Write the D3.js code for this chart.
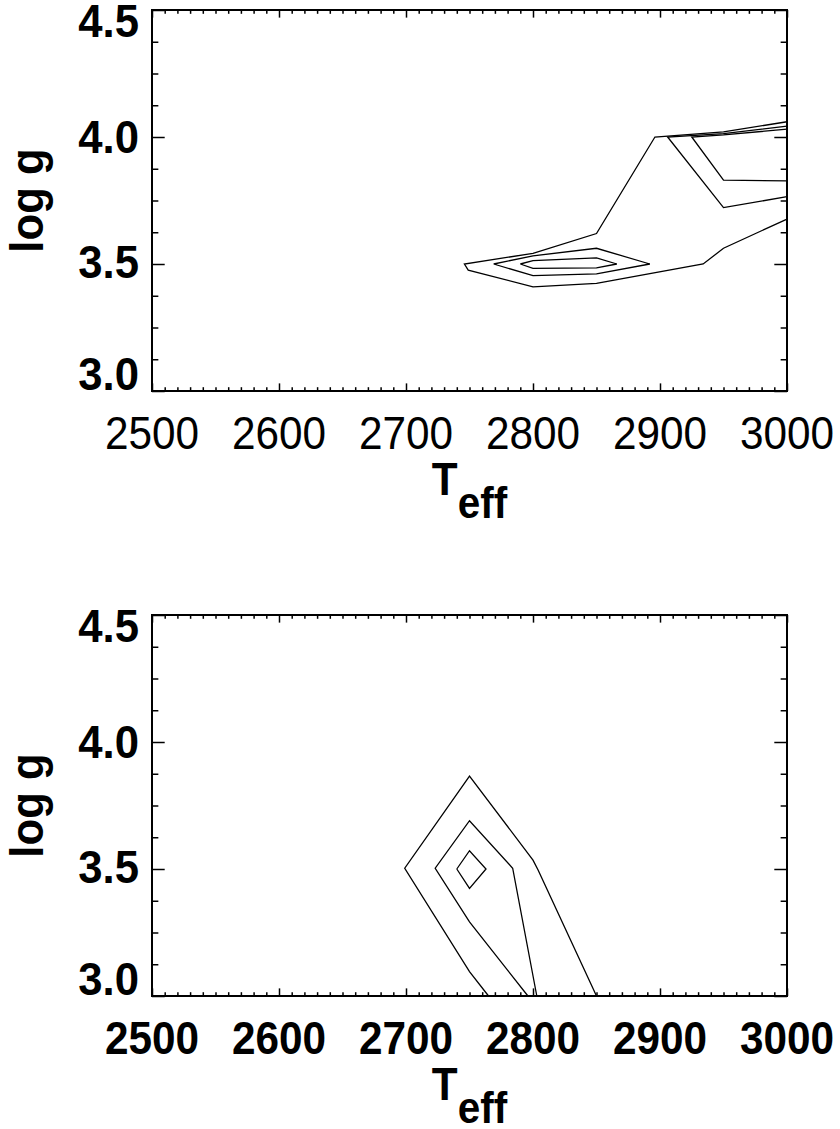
<!DOCTYPE html>
<html>
<head>
<meta charset="utf-8">
<script src="https://cdn.jsdelivr.net/npm/d3@7"></script>
<style>
  body { margin: 0; background: #fff; }
  svg text { font-family: "Liberation Sans", Arial, sans-serif; fill: #000; }
</style>
</head>
<body>
<svg id="chart" width="840" height="1129"></svg>
<script>
// axis values
const xMajor = [2500, 2600, 2700, 2800, 2900, 3000];
const yMajor = [3.0, 3.5, 4.0, 4.5];
const yLabels = ["3.0", "3.5", "4.0", "4.5"];

// contour levels, top panel: [Teff, log g] points
const topOuter = [[3000, 3.677], [2950, 3.562], [2934, 3.5], [2850, 3.424], [2800, 3.41],
                  [2749, 3.476], [2746, 3.5], [2800, 3.542], [2850, 3.62], [2896, 4.0],
                  [2950, 4.02], [3000, 4.06]];
const topMidRing = [[2769, 3.5], [2800, 3.454], [2850, 3.461], [2892, 3.5], [2850, 3.562],
                    [2800, 3.532], [2769, 3.5]];
const topMidEdge = [[3000, 3.765], [2950, 3.722], [2906, 4.0], [2950, 4.013], [3000, 4.043]];
const topInRing = [[2790, 3.5], [2800, 3.483], [2850, 3.485], [2866, 3.5], [2850, 3.524],
                   [2800, 3.513], [2790, 3.5]];
const topInEdge = [[3000, 3.827], [2950, 3.83], [2925, 4.0], [2950, 4.008], [3000, 4.031]];

// contour levels, bottom panel
const botOuter = [[2765, 3.0], [2750, 3.096], [2699, 3.503], [2750, 3.866], [2800, 3.535],
                  [2804, 3.496], [2850, 3.0]];
const botMid = [[2796, 3.0], [2750, 3.292], [2723, 3.503], [2750, 3.69], [2784, 3.503],
                [2803, 3.0]];
const botInner = [[2740, 3.5], [2750, 3.572], [2763, 3.5], [2750, 3.424], [2740, 3.5]];

const svg = d3.select("#chart");
const left = 152, right = 787;

// the original font is a bit narrower than Liberation Sans
function label(g, px, py, sx) {
  return g.append("text").attr("transform", `translate(${px},${py}) scale(${sx},1)`);
}

function panel(top, bottom, contours, boldTicks) {
  const x = d3.scaleLinear().domain([2500, 3000]).range([left, right]);
  const y = d3.scaleLinear().domain([3.0, 4.5]).range([bottom, top]);
  const g = svg.append("g");

  const xMinor = d3.range(2500, 3001, 10).filter(v => v % 100 !== 0);
  const yMinor = d3.range(3.0, 4.5001, 0.125).filter(v => Math.abs(v * 2 - Math.round(v * 2)) > 1e-6);
  const xLen = 0.02 * (bottom - top), yLen = 0.02 * (right - left);

  const addAxis = (axis, tr) => g.append("g").attr("transform", tr).call(axis)
      .call(a => a.select(".domain").remove())
      .call(a => a.selectAll("line").attr("stroke", "#000").attr("stroke-width", 1.5));

  addAxis(d3.axisBottom(x).tickValues(xMajor).tickSize(-xLen).tickFormat(""), `translate(0,${bottom})`);
  addAxis(d3.axisBottom(x).tickValues(xMinor).tickSize(-xLen / 2).tickFormat(""), `translate(0,${bottom})`);
  addAxis(d3.axisTop(x).tickValues(xMajor).tickSize(-xLen).tickFormat(""), `translate(0,${top})`);
  addAxis(d3.axisTop(x).tickValues(xMinor).tickSize(-xLen / 2).tickFormat(""), `translate(0,${top})`);
  addAxis(d3.axisLeft(y).tickValues(yMajor).tickSize(-yLen).tickFormat(""), `translate(${left},0)`);
  addAxis(d3.axisLeft(y).tickValues(yMinor).tickSize(-yLen / 2).tickFormat(""), `translate(${left},0)`);
  addAxis(d3.axisRight(y).tickValues(yMajor).tickSize(-yLen).tickFormat(""), `translate(${right},0)`);
  addAxis(d3.axisRight(y).tickValues(yMinor).tickSize(-yLen / 2).tickFormat(""), `translate(${right},0)`);

  g.append("rect")
    .attr("x", left).attr("y", top)
    .attr("width", right - left).attr("height", bottom - top)
    .attr("fill", "none").attr("stroke", "#000").attr("stroke-width", 2);

  const line = d3.line().x(d => x(d[0])).y(d => y(d[1]));
  g.selectAll("path.contour").data(contours).enter()
    .append("path").attr("class", "contour")
    .attr("d", line)
    .attr("fill", "none").attr("stroke", "#000").attr("stroke-width", 1.3)
    .attr("stroke-linejoin", "miter");

  // x tick labels
  xMajor.forEach(v => {
    label(g, x(v), bottom + 58, 0.9)
      .attr("text-anchor", "middle")
      .attr("font-size", 47)
      .attr("font-weight", boldTicks ? "bold" : "normal")
      .text(v);
  });

  // y tick labels, ends nudged inside like the original
  const yOff = [-1, 14, 16, 27];
  yMajor.forEach((v, i) => {
    label(g, left - 13, y(v) + yOff[i], 0.95)
      .attr("text-anchor", "end")
      .attr("font-size", 46).attr("font-weight", "bold")
      .text(yLabels[i]);
  });

  // axis titles
  const t = label(g, (left + right) / 2, bottom + 104, 0.92)
    .attr("text-anchor", "middle")
    .attr("font-size", 46).attr("font-weight", "bold");
  t.append("tspan").text("T");
  t.append("tspan").attr("dy", 23).attr("font-size", 44).text("eff");

  g.append("text")
    .attr("transform", `translate(43,${(top + bottom) / 2}) rotate(-90) scale(0.95,1)`)
    .attr("text-anchor", "middle")
    .attr("font-size", 46).attr("font-weight", "bold")
    .text("log g");
}

panel(10, 391, [topOuter, topMidRing, topMidEdge, topInRing, topInEdge], false);
panel(615, 996, [botOuter, botMid, botInner], true);
</script>
</body>
</html>
